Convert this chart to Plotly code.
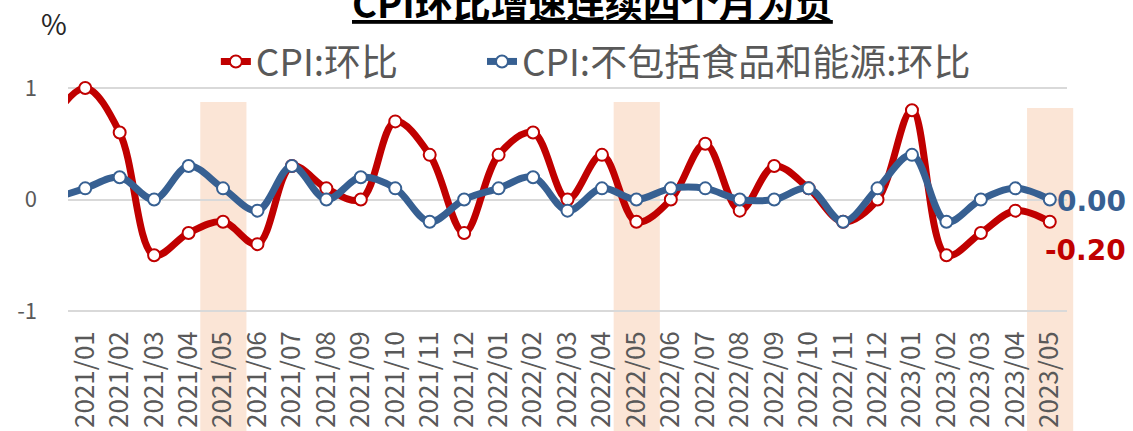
import plotly.graph_objects as go

# ---- data ----
months = ["2020/12",
          "2021/01", "2021/02", "2021/03", "2021/04", "2021/05", "2021/06",
          "2021/07", "2021/08", "2021/09", "2021/10", "2021/11", "2021/12",
          "2022/01", "2022/02", "2022/03", "2022/04", "2022/05", "2022/06",
          "2022/07", "2022/08", "2022/09", "2022/10", "2022/11", "2022/12",
          "2023/01", "2023/02", "2023/03", "2023/04", "2023/05"]
cpi_mom = [0.7,
           1.0, 0.6, -0.5, -0.3, -0.2, -0.4, 0.3, 0.1, 0.0, 0.7, 0.4, -0.3,
           0.4, 0.6, 0.0, 0.4, -0.2, 0.0, 0.5, -0.1, 0.3, 0.1, -0.2, 0.0,
           0.8, -0.5, -0.3, -0.1, -0.2]
core_mom = [0.0,
            0.1, 0.2, 0.0, 0.3, 0.1, -0.1, 0.3, 0.0, 0.2, 0.1, -0.2, 0.0,
            0.1, 0.2, -0.1, 0.1, 0.0, 0.1, 0.1, 0.0, 0.0, 0.1, -0.2, 0.1,
            0.4, -0.2, 0.0, 0.1, 0.0]
highlight_months = ["2021/05", "2022/05", "2023/05"]
name_cpi = "CPI:环比"
name_core = "CPI:不包括食品和能源:环比"
title_text = "CPI环比增速连续四个月为负"
y_ticks = [-1, 0, 1]
y_ticktext = ["-1", "0", "1"]

# ---- styling ----
RED = "#C00000"
BLUE = "#376092"
BAND = "#FBE5D6"
GRAY = "#595959"
GRID = "#D9D9D9"
CJK = "Noto Sans CJK SC"

X_RANGE = [0.5, len(months) - 0.5]
Y_RANGE = [-1.08, 1.08]

fig = go.Figure()
for vals, name, color, leg in [(cpi_mom, name_cpi, RED, "legend"),
                               (core_mom, name_core, BLUE, "legend2")]:
    fig.add_trace(go.Scatter(
        x=months, y=vals, name=name, mode="lines+markers", legend=leg,
        line=dict(color=color, width=7, shape="spline", smoothing=1.0),
        marker=dict(symbol="circle", size=12, color="white",
                    line=dict(color=color, width=2)),
        cliponaxis=True,
    ))

# shaded months
def cat_to_paper(v):
    return (v - X_RANGE[0]) / (X_RANGE[1] - X_RANGE[0])

band_tops = [0.905, 0.905, 0.88]
for m, top in zip(highlight_months, band_tops):
    i = months.index(m)
    fig.add_shape(type="rect", xref="paper", yref="paper",
                  x0=cat_to_paper(i - 0.66), x1=cat_to_paper(i + 0.68),
                  y0=-0.6, y1=top, fillcolor=BAND, line_width=0, layer="below")

# end-value labels
fig.add_annotation(x=months[-1], y=core_mom[-1], text=f"<b>{core_mom[-1]:.2f}</b>",
                   xanchor="right", yanchor="middle", xshift=78, yshift=-2,
                   showarrow=False, font=dict(family="DejaVu Sans", size=28, color=BLUE))
fig.add_annotation(x=months[-1], y=cpi_mom[-1], text=f"<b>{cpi_mom[-1]:.2f}</b>",
                   xanchor="right", yanchor="middle", xshift=78, yshift=-29,
                   showarrow=False, font=dict(family="DejaVu Sans", size=28, color=RED))
# unit
fig.add_annotation(xref="paper", yref="paper", x=-0.014, y=1.233, text="%",
                   showarrow=False, xanchor="center", yanchor="middle",
                   font=dict(family=CJK, size=28, color="#262626"))
# title (partly above the page edge, as in the reference)
fig.add_annotation(xref="paper", yref="paper", x=0.525, y=1.0, yshift=78,
                   text=f"<b><u>{title_text}</u></b>", showarrow=False,
                   xanchor="center", yanchor="middle",
                   font=dict(family=CJK, size=38, color="black"))

leg_common = dict(orientation="h", yanchor="middle", xanchor="left",
                  font=dict(family=CJK, size=37, color=GRAY),
                  bgcolor="rgba(0,0,0,0)")
fig.update_layout(
    width=1133, height=431,
    margin=dict(l=68, r=66, t=79, b=111, autoexpand=False),
    paper_bgcolor="white", plot_bgcolor="white",
    legend=dict(x=0.148, y=1.071, **leg_common),
    legend2=dict(x=0.4144, y=1.071, **leg_common),
    showlegend=True,
    xaxis=dict(type="category", range=X_RANGE, tickangle=-90, showgrid=False,
               showline=False, zeroline=False, ticks="", automargin=False,
               ticklabelstandoff=5,
               tickfont=dict(family=CJK, size=26, color=GRAY)),
    xaxis2=dict(overlaying="x", anchor="free", position=0.5, range=X_RANGE,
                type="linear", tickmode="array",
                tickvals=[i + 0.5 for i in range(len(months))],
                showticklabels=False, ticks="outside", ticklen=6, tickwidth=2,
                tickcolor=GRID, showgrid=False, showline=False, zeroline=False),
    yaxis=dict(range=Y_RANGE, tickvals=y_ticks, ticktext=y_ticktext,
               showgrid=True, gridcolor=GRID,
               gridwidth=2, zeroline=False, showline=False, ticks="",
               ticklabelstandoff=30, automargin=False,
               tickfont=dict(family=CJK, size=22, color=GRAY)),
)

fig.write_html("out.html",
               config={"displayModeBar": False},
               post_script="document.body.style.margin='0';"
                           "document.body.style.overflow='hidden';")
